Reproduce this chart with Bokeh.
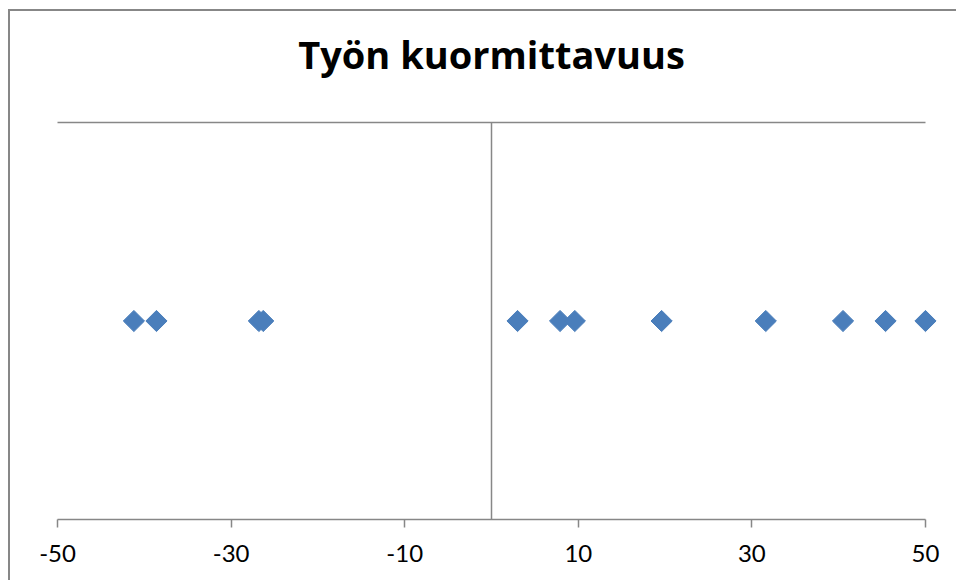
from bokeh.plotting import figure
from bokeh.models import Span, FixedTicker, Range1d, PrintfTickFormatter, LinearAxis
from bokeh.embed import file_html
from bokeh.resources import INLINE

title_text = "Työn kuormittavuus"
x_values = [-41.2, -38.6, -26.8, -26.3, 3.0, 7.9, 9.6, 19.6, 31.6, 40.5, 45.4, 50.0]
y_values = [1, 1, 1, 1, 1, 1, 1, 1, 1, 1, 1, 1]
x_ticks = [-50, -30, -10, 10, 30, 50]

GRAY = "#878787"
FONT = "Lato"

p = figure(width=956, height=580, output_backend="svg", toolbar_location=None,
           x_range=Range1d(-51.5, 51.5), y_range=Range1d(0, 2),
           min_border_left=44, min_border_right=18, min_border_top=122, min_border_bottom=61)
p.outline_line_color = None
p.background_fill_color = "white"
p.border_fill_alpha = 0
p.styles = {
    "background-color": "white",
    "background-image": f"linear-gradient({GRAY},{GRAY}), linear-gradient({GRAY},{GRAY})",
    "background-size": "2px 100%, 100% 2px",
    "background-position": "8px 9px, 8px 9px",
    "background-repeat": "no-repeat",
}

p.title.text = title_text + "\n"
p.title.align = "center"
p.title.vertical_align = "bottom"
p.title.text_font = "Open Sans"
p.title.text_font_style = "bold"
p.title.text_font_size = "38px"
p.title.text_line_height = 0.82
p.title.text_color = "black"
p.title.standoff = 0

p.xgrid.visible = False
p.ygrid.visible = False
p.yaxis.visible = False

ax = p.xaxis[0]
ax.ticker = FixedTicker(ticks=x_ticks)
ax.formatter = PrintfTickFormatter(format="%d")
ax.bounds = (-50, 50)
ax.axis_line_color = GRAY
ax.axis_line_width = 1.5
ax.major_tick_line_color = GRAY
ax.major_tick_line_width = 1.5
ax.major_tick_out = 8
ax.major_tick_in = 0
ax.minor_tick_line_color = None
ax.major_label_text_font = FONT
ax.major_label_text_font_size = "24px"
ax.major_label_text_color = "black"
ax.major_label_standoff = 17

top = LinearAxis(ticker=FixedTicker(ticks=[]), bounds=(-50, 50),
                 axis_line_color=GRAY, axis_line_width=1.5,
                 major_tick_line_color=None, minor_tick_line_color=None,
                 major_tick_out=0, major_tick_in=0, major_label_standoff=0,
                 major_label_text_font_size="0px")
p.add_layout(top, "above")

p.add_layout(Span(location=0, dimension="height", line_color=GRAY, line_width=1.5))

p.scatter(x_values, y_values, marker="square", size=15, angle=0.785398,
          fill_color="#4A7EBB", line_color="#4A7EBB", line_width=1)

open("out.html", "w").write(file_html(p, INLINE))
